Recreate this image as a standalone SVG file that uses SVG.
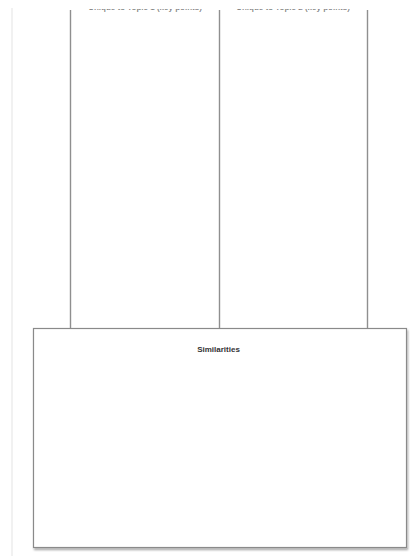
<svg xmlns="http://www.w3.org/2000/svg" width="416" height="556" viewBox="0 0 416 556">
<style>
.col{stroke:#8f8f8f;stroke-width:1.4;fill:none}
.hdr{font-family:"Liberation Sans",Arial,sans-serif;font-size:8px;font-weight:bold;fill:#333}
.box{fill:#fff;stroke:#8a8a8a;stroke-width:1.2}
</style>
<defs>
<filter id="sh" x="-5%" y="-5%" width="115%" height="115%">
<feGaussianBlur in="SourceAlpha" stdDeviation="1.2"/>
<feOffset dx="1" dy="2" result="b"/>
<feComponentTransfer><feFuncA type="linear" slope="0.35"/></feComponentTransfer>
<feMerge><feMergeNode/><feMergeNode in="SourceGraphic"/></feMerge>
</filter>
<clipPath id="top"><rect x="0" y="9" width="416" height="20"/></clipPath>
</defs>
<rect width="416" height="556" fill="#fff"/>
<g id="margin"><line x1="12" y1="8" x2="12" y2="556" stroke="#ececec" stroke-width="1.5"/></g>
<g id="connectors">
<line class="col" x1="70.5" y1="10" x2="70.5" y2="328"/>
<line class="col" x1="219.5" y1="10" x2="219.5" y2="328"/>
<line class="col" x1="367.5" y1="10" x2="367.5" y2="328"/>
</g>
<g id="col-headers" clip-path="url(#top)">
<text class="hdr" x="145" y="9.6" text-anchor="middle" fill-opacity="0.6">Unique to Topic 1 (key points)</text>
<text class="hdr" x="293" y="9.6" text-anchor="middle" fill-opacity="0.6">Unique to Topic 2 (key points)</text>
</g>
<g id="similarities">
<rect class="box" x="33.5" y="328.5" width="373" height="219" filter="url(#sh)"/>
<text class="hdr" x="218.5" y="352" text-anchor="middle">Similarities</text>
</g>
</svg>
